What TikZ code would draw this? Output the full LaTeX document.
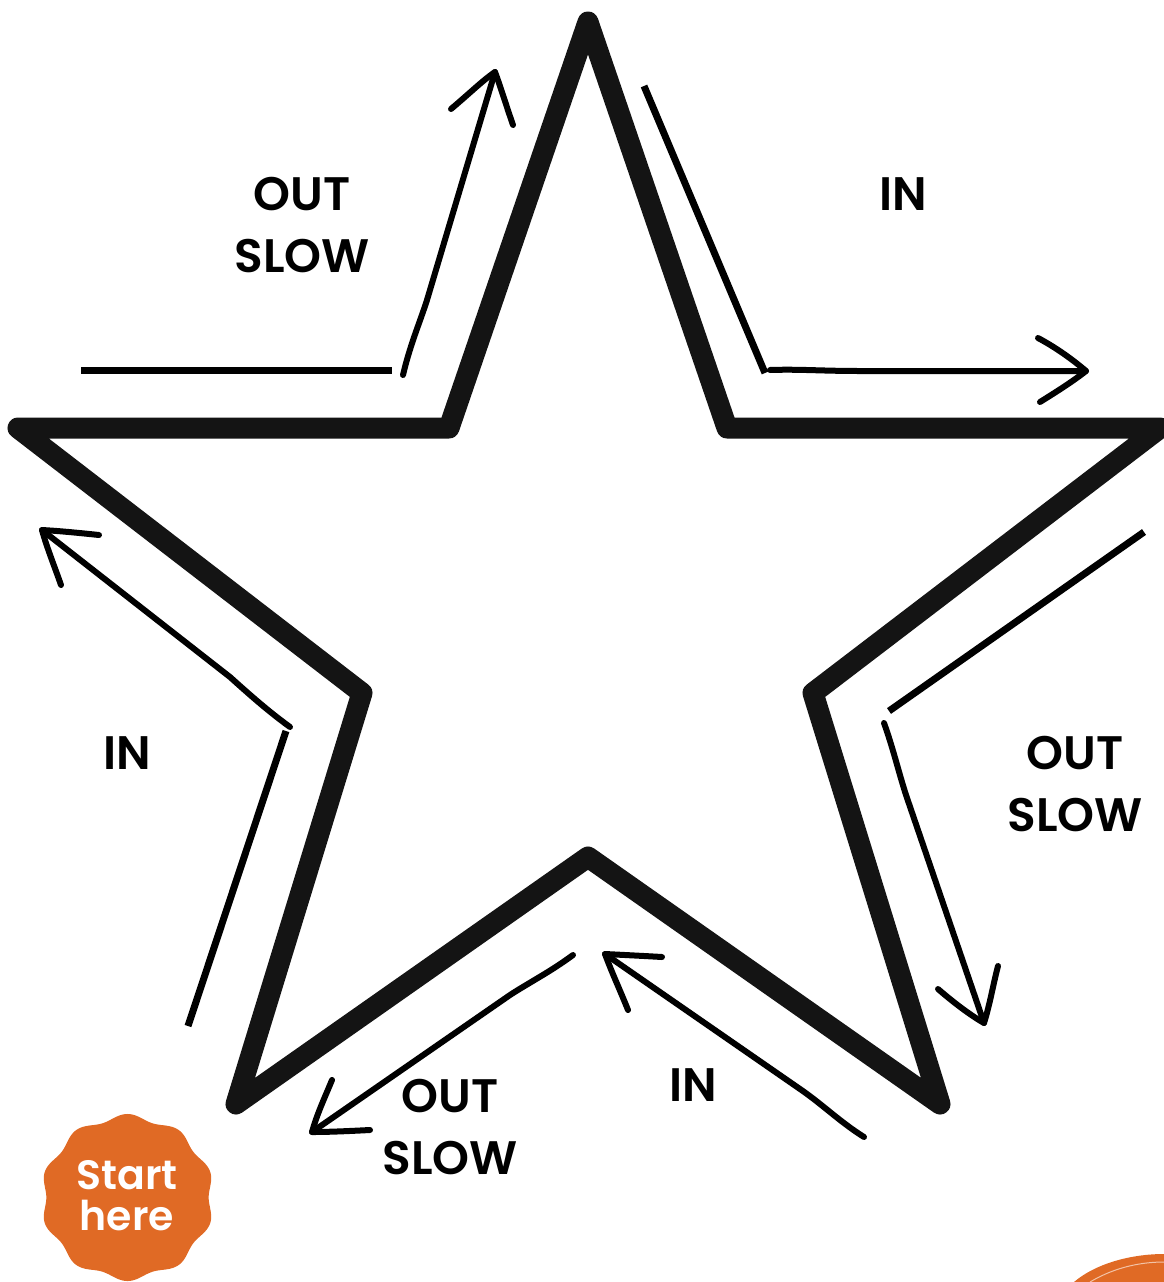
\documentclass[tikz,border=0pt]{standalone}
\usepackage{fontspec}
\setmainfont{Poppins}[BoldFont={Poppins SemiBold}]
\definecolor{starink}{HTML}{141414}
\definecolor{badge}{HTML}{E06A25}
\tikzset{
  x=1pt,y=-1pt,
  star/.style={draw=starink,line width=21pt,line join=round,line cap=round},
  hand/.style={draw=black,line width=7pt,line cap=butt,line join=round},
  thin hand/.style={draw=black,line width=6pt,line cap=round,line join=round},
  lab/.style={font=\fontsize{47}{62}\selectfont\bfseries,align=center,text=black,inner sep=0pt},
  badgelab/.style={font=\fontsize{41}{41}\selectfont\bfseries,align=center,text=white,inner sep=0pt}
}
\begin{document}
\begin{tikzpicture}
\useasboundingbox (0,0) rectangle (1164,1282);
\clip (0,0) rectangle (1164,1282);
% star
\draw[star] (588,22) coordinate (s1) -- (727,428) -- (1160,428) -- (813,693) -- (940,1104) -- (588,857) -- (236,1104) -- (362,693) -- (18,428) -- (449,428) -- cycle;
% top-left
\coordinate (a1) at (81,370); \coordinate (a2) at (392,370);
\draw[hand] (a1) -- (a2);
\coordinate (b1) at (403,375); \coordinate (b2) at (495,72);
\draw[thin hand] (b1) .. controls (410,345) and (420,322) .. (427,300) -- (b2);
\draw[thin hand] (451,109) .. controls (470,93) and (482,81) .. (b2) .. controls (501,88) and (506,105) .. (513,125);
% top-right
\coordinate (c1) at (644,86); \coordinate (c2) at (765,373);
\draw[hand] (c1) -- (c2);
\coordinate (d1) at (770,370); \coordinate (d2) at (1086,371);
\draw[thin hand] (d1) .. controls (800,369) and (820,371) .. (860,371) -- (d2);
\draw[thin hand] (1038,338) .. controls (1055,347) and (1072,359) .. (d2) .. controls (1072,382) and (1056,392) .. (1040,402);
% right
\coordinate (e1) at (1144,532); \coordinate (e2) at (889,711);
\draw[hand] (e1) -- (e2);
\coordinate (f1) at (884,723); \coordinate (f2) at (984,1023);
\draw[thin hand] (f1) .. controls (893,748) and (898,770) .. (906,795) -- (f2);
\draw[thin hand] (938,989) .. controls (953,1002) and (970,1015) .. (f2) .. controls (990,1004) and (993,985) .. (998,966);
% bottom right
\coordinate (g1) at (864,1137); \coordinate (g2) at (605,954);
\draw[thin hand] (g1) .. controls (840,1122) and (822,1104) .. (800,1089) -- (g2);
\draw[thin hand] (628,1010) .. controls (620,990) and (612,973) .. (g2) .. controls (625,955) and (645,956) .. (662,957);
% bottom left
\coordinate (h1) at (573,955); \coordinate (h2) at (312,1132);
\draw[thin hand] (h1) .. controls (550,972) and (530,982) .. (510,995) -- (h2);
\draw[thin hand] (332,1080) .. controls (325,1097) and (317,1114) .. (h2) .. controls (330,1132) and (350,1131) .. (370,1130);
% left
\coordinate (i1) at (188,1026); \coordinate (i2) at (286,731);
\draw[hand] (i1) -- (i2);
\coordinate (j1) at (290,727); \coordinate (j2) at (42,530);
\draw[thin hand] (j1) .. controls (268,711) and (250,695) .. (230,677) -- (j2);
\draw[thin hand] (61,585) .. controls (54,565) and (47,548) .. (j2) .. controls (60,531) and (80,533) .. (99,535);
% labels
\node[lab] (l1) at (302,225) {OUT\\SLOW};
\node[lab] (l2) at (903,194) {IN};
\node[lab] (l3) at (1075,784) {OUT\\SLOW};
\node[lab] (l4) at (693,1085) {IN};
\node[lab] (l5) at (450,1127) {OUT\\SLOW};
\node[lab] (l6) at (127,753) {IN};
% badge
\fill[badge] plot[domain=0:360,samples=241,smooth,variable=\t] ({127.5+1.025*(82+2.8*cos(10*(\t-90)))*cos(\t)},{1197.5+0.985*(82+2.8*cos(10*(\t-90)))*sin(\t)}) -- cycle;
\node[badgelab] (st) at (127,1196) {Start\\here};
% corner
\fill[badge] (1074,1282) .. controls (1095,1264) and (1130,1254) .. (1164,1254) -- (1164,1282) -- cycle;
\draw[white,opacity=.6,line width=1pt] (1090,1282) .. controls (1110,1270) and (1135,1262) .. (1164,1262);
\end{tikzpicture}
\end{document}
